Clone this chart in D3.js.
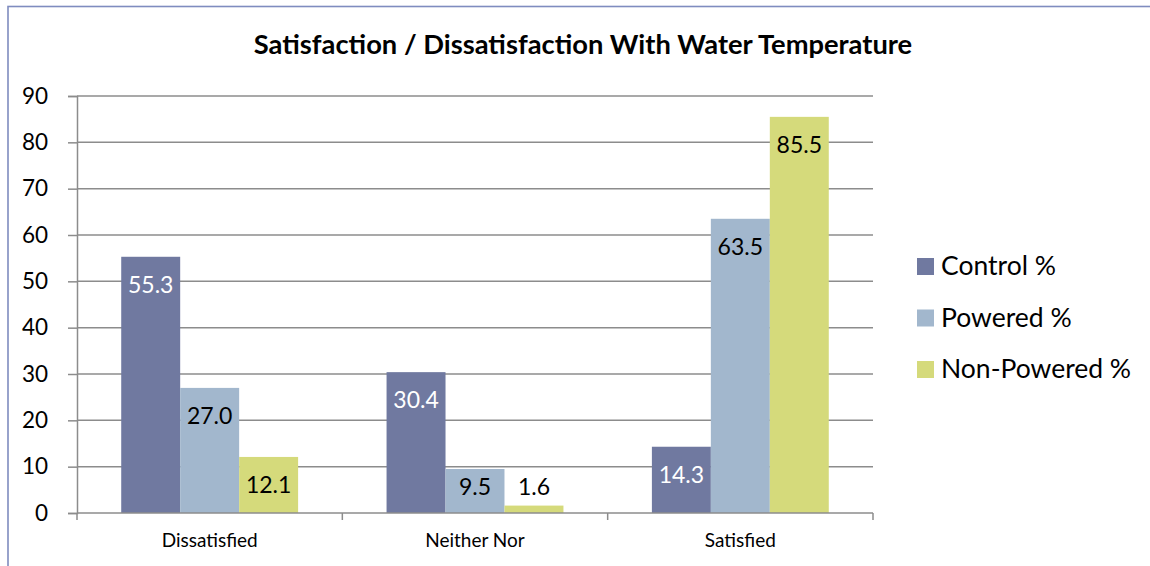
<!DOCTYPE html>
<html>
<head>
<meta charset="utf-8">
<script src="https://cdn.jsdelivr.net/npm/d3@7"></script>
<style>
  html, body { margin: 0; padding: 0; background: #fff; }
  svg { display: block; }
  text { font-family: Lato, "Open Sans", sans-serif; }
</style>
</head>
<body>
<svg id="chart" width="1150" height="566"></svg>
<script>
// Survey response groups along the x axis
const categories = ["Dissatisfied", "Neither Nor", "Satisfied"];
// One series per group of respondents (percent)
const seriesNames = ["Control %", "Powered %", "Non-Powered %"];
const controlValues = [55.3, 30.4, 14.3];
const poweredValues = [27.0, 9.5, 63.5];
const nonPoweredValues = [12.1, 1.6, 85.5];
const yTicks = [0, 10, 20, 30, 40, 50, 60, 70, 80, 90];
const chartTitle = "Satisfaction / Dissatisfaction With Water Temperature";

const seriesValues = [controlValues, poweredValues, nonPoweredValues];
const colors = ["#7079a0", "#a2b7cd", "#d5da7b"];
const labelColors = ["#ffffff", "#000000", "#000000"];

const svg = d3.select("#chart");

// Outer chart frame (extends past the right and bottom edges)
svg.append("rect")
  .attr("x", 8).attr("y", 6.5)
  .attr("width", 1160).attr("height", 600)
  .attr("fill", "none")
  .attr("stroke", "#7f8cbf")
  .attr("stroke-width", 1.6);

// Title
svg.append("text")
  .attr("x", 583).attr("y", 54)
  .attr("text-anchor", "middle")
  .attr("font-weight", "bold")
  .attr("font-size", 27.3)
  .attr("fill", "#000")
  .text(chartTitle);

const plot = { left: 77, right: 873, top: 96, bottom: 513 };

const x = d3.scaleBand()
  .domain(categories)
  .range([plot.left, plot.right])
  .paddingInner(0)
  .paddingOuter(0);

const inner = d3.scaleBand()
  .domain(seriesNames)
  .range([0, x.bandwidth()])
  .paddingOuter(0.75)
  .paddingInner(0);

const y = d3.scaleLinear()
  .domain([0, 90])
  .range([plot.bottom, plot.top]);

// Horizontal gridlines
svg.append("g")
  .selectAll("line")
  .data(yTicks.filter(d => d > 0))
  .join("line")
  .attr("x1", plot.left).attr("x2", plot.right)
  .attr("y1", d => y(d)).attr("y2", d => y(d))
  .attr("stroke", "#8c8c8c")
  .attr("stroke-width", 1.5);

// Bars
const groups = svg.append("g")
  .selectAll("g")
  .data(categories)
  .join("g")
  .attr("transform", d => `translate(${x(d)},0)`);

const barData = (cat, ci) => seriesNames.map((s, si) => ({
  series: s, si, value: seriesValues[si][ci]
}));

groups.selectAll("rect")
  .data((d, i) => barData(d, i))
  .join("rect")
  .attr("x", d => inner(d.series))
  .attr("width", inner.bandwidth())
  .attr("y", d => y(d.value))
  .attr("height", d => y(0) - y(d.value))
  .attr("fill", d => colors[d.si]);

// Value labels, inside the top of each bar (kept above the baseline for short bars)
groups.selectAll("text")
  .data((d, i) => barData(d, i))
  .join("text")
  .attr("x", d => inner(d.series) + inner.bandwidth() / 2)
  .attr("y", d => Math.min(y(d.value) + 28, y(0) - 26))
  .attr("dy", "0.35em")
  .attr("text-anchor", "middle")
  .attr("font-size", 23)
  .attr("fill", d => labelColors[d.si])
  .text(d => d.value.toFixed(1));

// Y axis
const yAxis = d3.axisLeft(y)
  .tickValues(yTicks)
  .tickSize(9)
  .tickPadding(20)
  .tickFormat(d3.format("d"));

const yg = svg.append("g")
  .attr("transform", `translate(${plot.left},0)`)
  .call(yAxis);
yg.select(".domain").attr("stroke", "#8c8c8c").attr("stroke-width", 1.5);
yg.selectAll(".tick line").attr("stroke", "#8c8c8c").attr("stroke-width", 1.5);
yg.selectAll(".tick text")
  .attr("font-size", 22.5)
  .attr("font-family", "Lato, sans-serif")
  .attr("fill", "#000");

// X axis with tick marks at category boundaries
const xg = svg.append("g")
  .attr("transform", `translate(0,${plot.bottom})`);
xg.append("line")
  .attr("x1", plot.left).attr("x2", plot.right)
  .attr("stroke", "#8c8c8c").attr("stroke-width", 1.5);
const bounds = categories.map(c => x(c)).concat([x(categories[categories.length - 1]) + x.bandwidth()]);
xg.selectAll("line.bound")
  .data(bounds)
  .join("line")
  .attr("class", "bound")
  .attr("x1", d => d).attr("x2", d => d)
  .attr("y1", 0).attr("y2", 7)
  .attr("stroke", "#8c8c8c").attr("stroke-width", 1.5);
xg.selectAll("text")
  .data(categories)
  .join("text")
  .attr("x", d => x(d) + x.bandwidth() / 2)
  .attr("y", 34)
  .attr("text-anchor", "middle")
  .attr("font-size", 19)
  .attr("fill", "#000")
  .text(d => d);

// Legend
const legend = svg.append("g")
  .attr("transform", "translate(917,266)");
const items = legend.selectAll("g")
  .data(seriesNames)
  .join("g")
  .attr("transform", (d, i) => `translate(0,${i * 51.5})`);
items.append("rect")
  .attr("x", 0).attr("y", -8)
  .attr("width", 17).attr("height", 17)
  .attr("fill", (d, i) => colors[i]);
items.append("text")
  .attr("x", 24).attr("y", 0)
  .attr("dy", "0.35em")
  .attr("font-size", 26.5)
  .attr("fill", "#000")
  .text(d => d);
</script>
</body>
</html>
